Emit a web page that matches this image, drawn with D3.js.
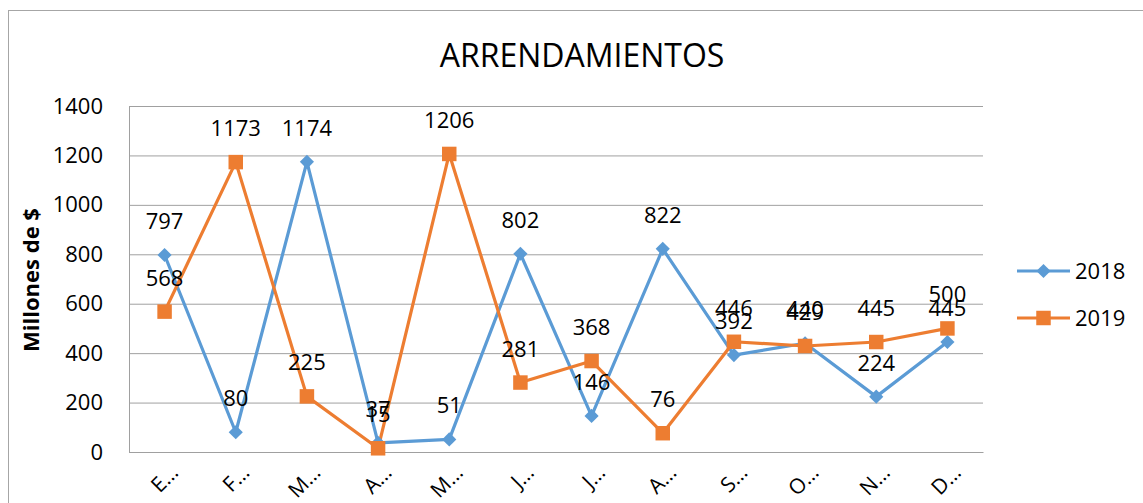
<!DOCTYPE html>
<html><head><meta charset="utf-8">
<script src="https://cdn.jsdelivr.net/npm/d3@7"></script>
<style>html,body{margin:0;padding:0;background:#fff;}svg{display:block;}</style>
</head><body>
<svg id="c" width="1143" height="503"></svg>
<script>
const categories = ["E…","F…","M…","A…","M…","J…","J…","A…","S…","O…","N…","D…"];
const series2018 = [797, 80, 1174, 37, 51, 802, 146, 822, 392, 440, 224, 445];
const series2019 = [568, 1173, 225, 15, 1206, 281, 368, 76, 446, 429, 445, 500];
const yTicks = [0, 200, 400, 600, 800, 1000, 1200, 1400];
const seriesNames = ["2018", "2019"];
const colors = ["#5B9BD5", "#ED7D31"];
const title = "ARRENDAMIENTOS";
const yLabel = "Millones de $";

const font = "'Open Sans', 'Noto Sans', sans-serif";
const svg = d3.select("#c");
svg.append("rect").attr("x",8.5).attr("y",10.5).attr("width",1160).attr("height",520)
  .attr("fill","#fff").attr("stroke","#A6A6A6").attr("stroke-width",1);

const m = {left:129, right:983, top:106, bottom:452};
const x = d3.scaleBand().domain(d3.range(categories.length)).range([m.left, m.right]).padding(0);
const y = d3.scaleLinear().domain([0,1400]).range([m.bottom, m.top]);
const cx = i => x(i) + x.bandwidth()/2;

// gridlines
const yAxis = d3.axisLeft(y).tickValues(yTicks).tickFormat(d3.format("d"))
  .tickSize(-(m.right-m.left)).tickPadding(26);
const gy = svg.append("g").attr("transform",`translate(${m.left},0)`).call(yAxis);
gy.select(".domain").attr("stroke","#A0A0A0");
gy.selectAll(".tick line").attr("stroke","#A0A0A0").attr("stroke-width",1);
gy.selectAll(".tick text").attr("font-family",font).attr("font-size",22).attr("fill","#000");

// x axis
const xAxis = d3.axisBottom(x).tickFormat(i=>categories[i]).tickSize(0).tickPadding(0);
const gx = svg.append("g").attr("transform",`translate(0,${m.bottom})`).call(xAxis);
gx.select(".domain").attr("stroke","#A0A0A0");
gx.selectAll(".tick text").attr("font-family",font).attr("font-size",21).attr("fill","#000")
  .attr("text-anchor","end").attr("dy",0).attr("y",0)
  .attr("transform","translate(15,22) rotate(-45)");

// title
svg.append("text").attr("x",582).attr("y",67).attr("text-anchor","middle")
  .attr("font-family",font).attr("font-size",32).attr("fill","#000").text(title);

// y label
svg.append("text").attr("transform","translate(39,280) rotate(-90)").attr("text-anchor","middle")
  .attr("font-family",font).attr("font-size",22).attr("font-weight","bold").attr("fill","#000").text(yLabel);

const data = [series2018, series2019];
const line = d3.line().x((d,i)=>cx(i)).y(d=>y(d));
const square = d3.symbol().type(d3.symbolSquare).size(210);
const diamondSq = d3.symbol().type(d3.symbolSquare).size(100);

data.forEach((vals, s) => {
  svg.append("path").datum(vals).attr("d",line).attr("fill","none")
    .attr("stroke",colors[s]).attr("stroke-width",3.2).attr("stroke-linejoin","round");
});
data.forEach((vals, s) => {
  svg.append("g").selectAll("path").data(vals).join("path")
    .attr("transform",(d,i)=>`translate(${cx(i)},${y(d)})` + (s===0?" rotate(45)":""))
    .attr("d", s===0 ? diamondSq() : square())
    .attr("fill",colors[s]);
});
data.forEach((vals, s) => {
  svg.append("g").selectAll("text").data(vals).join("text")
    .attr("x",(d,i)=>cx(i)).attr("y",d=>y(d)-26).attr("text-anchor","middle")
    .attr("font-family",font).attr("font-size",22).attr("fill","#000").text(d=>d);
});

// legend
seriesNames.forEach((n, s) => {
  const ly = 271 + s*47;
  const g = svg.append("g");
  g.append("line").attr("x1",1017).attr("x2",1070).attr("y1",ly).attr("y2",ly)
    .attr("stroke",colors[s]).attr("stroke-width",3.2);
  g.append("path").attr("transform",`translate(1043.5,${ly})` + (s===0?" rotate(45)":""))
    .attr("d", s===0 ? diamondSq() : square())
    .attr("fill",colors[s]);
  g.append("text").attr("x",1075).attr("y",ly+8).attr("font-family",font).attr("font-size",22)
    .attr("fill","#000").text(n);
});
</script>
</body></html>
